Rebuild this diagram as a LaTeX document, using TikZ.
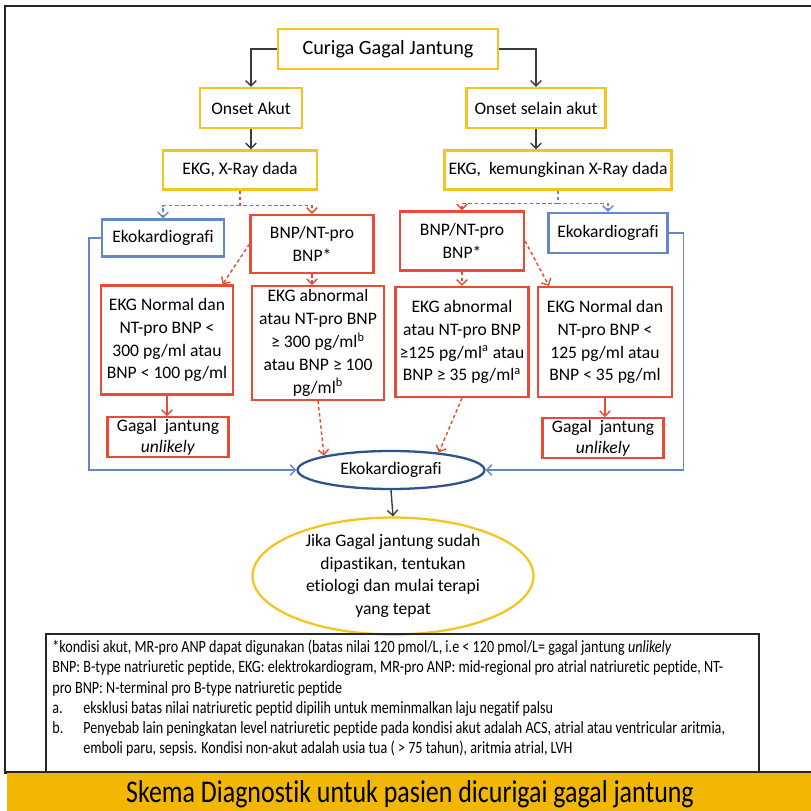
\documentclass[tikz,border=0pt]{standalone}
\usepackage{fontspec}
\setmainfont{Carlito}[Ligatures=NoCommon]
\newfontfamily\narrowfont[FakeStretch=0.82, Ligatures=NoCommon]{Carlito}
\usetikzlibrary{arrows.meta, shapes.geometric}
\definecolor{kuning}{RGB}{245,196,35}
\definecolor{pita}{RGB}{242,183,5}
\definecolor{merah}{RGB}{233,75,53}
\definecolor{biru}{RGB}{100,134,204}
\definecolor{birutua}{RGB}{47,82,143}
\definecolor{panah}{RGB}{60,60,60}

\begin{document}
\begin{tikzpicture}[x=0.02cm, y=-0.02cm, font=\fontsize{10}{13}\selectfont,
  ybox/.style={draw=kuning, line width=1.2pt, fill=white, align=center, inner sep=2pt},
  rbox/.style={draw=merah, line width=1.2pt, align=center, inner sep=2pt},
  bbox/.style={draw=biru, line width=1.2pt, align=center, inner sep=2pt},
  hitam/.style={-{Straight Barb[length=3pt]}, panah, line width=0.8pt},
  putusmerah/.style={-{Straight Barb[length=3pt]}, merah, line width=0.8pt, dash pattern=on 2pt off 1.5pt},
  putusbiru/.style={-{Straight Barb[length=3pt]}, biru, line width=0.8pt, dash pattern=on 2pt off 1.5pt},
  merahpenuh/.style={-{Straight Barb[length=3pt]}, merah, line width=0.8pt},
  birupenuh/.style={-{Straight Barb[length=3pt]}, biru, line width=0.8pt}]
  \useasboundingbox (0,0) rectangle (811,811);
  % frame and title band
  \draw[line width=1.7pt, black!85] (5,6) rectangle (840,772);
  \fill[pita] (7,772) rectangle (840,840);
  \draw[line width=1.5pt, black!85] (5,772) -- (840,772);
  \node[font=\narrowfont\fontsize{18}{20}\selectfont] (judul) at (410,794) {Skema Diagnostik untuk pasien dicurigai gagal jantung};
  % top
  \node[ybox, minimum width=4.4cm, minimum height=0.8cm, font=\fontsize{11.5}{14}\selectfont] (curiga) at (388,49) {Curiga Gagal Jantung};
  \node[ybox, minimum width=2.04cm, minimum height=0.8cm] (akut) at (251,108) {Onset Akut};
  \node[ybox, minimum width=2.78cm, minimum height=0.8cm] (selain) at (536,108) {Onset selain akut};
  \node[ybox, minimum width=3.08cm, minimum height=0.78cm] (xray) at (240,170) {EKG, X-Ray dada};
  \node[ybox, minimum width=4.54cm, minimum height=0.78cm] (xray2) at (558,170) {EKG,\ \ kemungkinan X-Ray dada};
  % left branch
  \node[bbox, minimum width=2.44cm, minimum height=0.74cm] (ekoL) at (163,238) {Ekokardiografi};
  \node[rbox, minimum width=2.46cm, minimum height=1.16cm] (bnpL) at (312,244) {BNP/NT-pro\\BNP*};
  \node[rbox, minimum width=2.64cm, minimum height=2.18cm] (normL) at (167,340) {EKG Normal dan\\NT-pro BNP <\\300 pg/ml atau\\BNP < 100 pg/ml};
  \node[rbox, minimum width=2.64cm, minimum height=2.2cm] (abnL) at (318,343) {EKG abnormal\\atau NT-pro BNP\\≥ 300 pg/ml\textsuperscript{b}\\atau BNP ≥ 100\\pg/ml\textsuperscript{b}};
  \node[rbox, minimum width=2.42cm, minimum height=0.74cm, inner sep=1pt, font=\fontsize{10}{12}\selectfont] (unlL) at (168,437) {Gagal\ \ jantung\\\textit{unlikely}};
  % right branch
  \node[rbox, minimum width=2.48cm, minimum height=1.18cm] (bnpR) at (462,241) {BNP/NT-pro\\BNP*};
  \node[bbox, minimum width=2.38cm, minimum height=0.8cm] (ekoR) at (608,233) {Ekokardiografi};
  \node[rbox, minimum width=2.66cm, minimum height=2.2cm] (abnR) at (462,342) {EKG abnormal\\atau NT-pro BNP\\≥125 pg/ml\textsuperscript{a} atau\\BNP ≥ 35 pg/ml\textsuperscript{a}};
  \node[rbox, minimum width=2.68cm, minimum height=2.2cm] (normR) at (605,342) {EKG Normal dan\\NT-pro BNP <\\125 pg/ml atau\\BNP < 35 pg/ml};
  \node[rbox, minimum width=2.42cm, minimum height=0.74cm, inner sep=1pt, font=\fontsize{10}{12}\selectfont] (unlR) at (603,438) {Gagal\ \ jantung\\\textit{unlikely}};
  % bottom
  \node[ellipse, draw=birutua, line width=1.3pt, minimum width=3.74cm, minimum height=0.76cm, inner sep=0pt] (eko) at (391,470) {Ekokardiografi};
  \node[ellipse, draw=kuning, line width=1.3pt, minimum width=5.62cm, minimum height=2.1cm, inner sep=0pt, align=center, font=\fontsize{10}{12.8}\selectfont] (akhir) at (393,576) {Jika Gagal jantung sudah\\dipastikan, tentukan\\etiologi dan mulai terapi\\yang tepat};
  % connectors
  \draw[hitam] (curiga.west) -| (akut.north);
  \draw[hitam] (curiga.east) -| (selain.north);
  \draw[hitam] (akut.south) -- (akut.south |- xray.north);
  \draw[hitam] (selain.south) -- (selain.south |- xray2.north);
  \draw[putusmerah] (xray.south) -- ++(0,15) -| (bnpL.north);
  \draw[putusbiru] (xray.south) ++(0,15) -| (ekoL.north);
  \draw[putusbiru] (xray2.south) -- ++(0,13) -| (ekoR.north);
  \draw[putusmerah] (xray2.south) ++(0,13) -| (bnpR.north);
  \draw[putusmerah] (bnpL.west) -- (normL.45);
  \draw[putusmerah] (bnpL.south) -- (bnpL.south |- abnL.north);
  \draw[merahpenuh] (normL.south) -- (normL.south |- unlL.north);
  \draw[putusmerah] (abnL.south) -- (eko.north west);
  \draw[putusmerah] (bnpR.east) -- (normR.135);
  \draw[putusmerah] (bnpR.south) -- (bnpR.south |- abnR.north);
  \draw[merahpenuh] (normR.south) -- (normR.south |- unlR.north);
  \draw[putusmerah] (abnR.south) -- (eko.20);
  \draw[birupenuh] (ekoL.west) -- ++(-12,0) |- (eko.west);
  \draw[birupenuh] (ekoR.east) -- ++(15,0) |- (eko.east);
  \draw[hitam] (eko.south) -- (akhir.north);
  % notes
  \draw[line width=1.5pt, black!85] (46,634) rectangle (759,772);
  \node[anchor=north west, align=left, inner sep=0pt, font=\narrowfont\fontsize{9.8}{11.4}\selectfont] (catatan) at (52,640) {*kondisi akut, MR-pro ANP dapat digunakan (batas nilai 120 pmol/L, i.e < 120 pmol/L= gagal jantung \textit{unlikely}\\
BNP: B-type natriuretic peptide, EKG: elektrokardiogram, MR-pro ANP: mid-regional pro atrial natriuretic peptide, NT-\\
pro BNP: N-terminal pro B-type natriuretic peptide\\
\makebox[0.62cm][l]{a.}eksklusi batas nilai natriuretic peptid dipilih untuk meminmalkan laju negatif palsu\\
\makebox[0.62cm][l]{b.}Penyebab lain peningkatan level natriuretic peptide pada kondisi akut adalah ACS, atrial atau ventricular aritmia,\\
\hspace*{0.62cm}emboli paru, sepsis. Kondisi non-akut adalah usia tua ( > 75 tahun), aritmia atrial, LVH};
\end{tikzpicture}
\end{document}
